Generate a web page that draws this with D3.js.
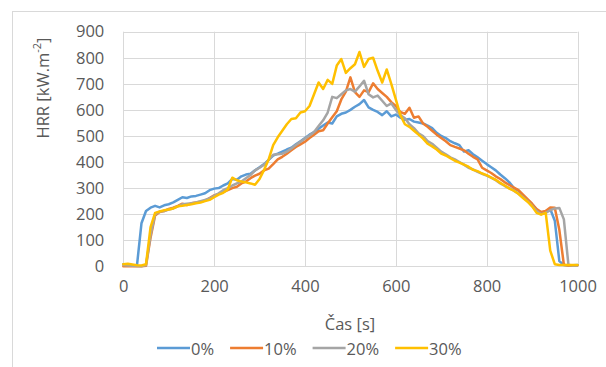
<!DOCTYPE html>
<html>
<head>
<meta charset="utf-8">
<script src="https://cdn.jsdelivr.net/npm/d3@7"></script>
<style>
  body { margin: 0; background: #fff; }
  text { font-family: "Open Sans", sans-serif; fill: #595959; }
</style>
</head>
<body>
<div id="chart"></div>
<script>
// time axis, one sample every 10 s
const time = d3.range(0, 1001, 10)

const seriesNames = ['0%', '10%', '20%', '30%']
const colors = ['#5B9BD5', '#ED7D31', '#A5A5A5', '#FFC000']

const hrr0 = [8, 6, 3, 2, 165, 212, 225, 232, 226, 234,
  238, 245, 255, 265, 262, 268, 270, 275, 280, 292,
  298, 300, 310, 318, 335, 332, 345, 352, 355, 368,
  380, 392, 408, 425, 432, 440, 448, 455, 468, 480,
  492, 505, 515, 528, 540, 552, 548, 575, 585, 590,
  600, 612, 622, 638, 610, 600, 592, 580, 595, 575,
  582, 570, 562, 565, 555, 552, 548, 540, 530, 512,
  500, 492, 480, 472, 465, 440, 445, 430, 418, 405,
  392, 380, 368, 352, 338, 322, 300, 290, 272, 255,
  238, 218, 205, 212, 220, 175, 20, 5, 3, 4, 5]

const hrr10 = [0, 0, 0, 0, 0, 2, 110, 195, 208, 212,
  220, 225, 232, 240, 235, 242, 245, 248, 252, 262,
  272, 278, 285, 292, 300, 305, 318, 325, 338, 348,
  355, 368, 375, 392, 410, 420, 432, 445, 458, 468,
  478, 492, 505, 518, 522, 548, 572, 595, 640, 670,
  725, 668, 650, 675, 668, 702, 680, 665, 650, 630,
  615, 592, 585, 608, 570, 575, 548, 535, 520, 505,
  492, 480, 465, 458, 452, 445, 432, 420, 410, 378,
  368, 358, 345, 335, 322, 312, 302, 292, 275, 258,
  240, 220, 208, 212, 226, 225, 140, 6, 3, 2, 3]

const hrr20 = [5, 3, 2, 1, 0, 5, 120, 200, 210, 212,
  218, 222, 230, 238, 240, 242, 245, 250, 255, 260,
  270, 280, 292, 300, 310, 318, 325, 338, 350, 368,
  378, 390, 408, 428, 430, 432, 440, 452, 465, 478,
  490, 502, 515, 538, 560, 590, 650, 645, 660, 675,
  680, 670, 690, 712, 660, 648, 655, 635, 615, 625,
  600, 580, 568, 545, 530, 510, 500, 480, 470, 455,
  440, 430, 418, 410, 400, 390, 378, 372, 362, 355,
  348, 340, 330, 318, 308, 300, 290, 278, 265, 250,
  232, 212, 200, 205, 215, 222, 224, 180, 6, 2, 3]

const hrr30 = [8, 10, 7, 4, 3, 8, 150, 205, 210, 215,
  218, 222, 230, 232, 235, 238, 242, 245, 250, 255,
  265, 275, 282, 295, 340, 330, 325, 322, 318, 313,
  335, 370, 410, 465, 495, 520, 545, 565, 568, 590,
  595, 615, 660, 705, 680, 715, 700, 770, 795, 742,
  760, 775, 822, 765, 795, 800, 750, 705, 755, 700,
  640, 580, 545, 535, 520, 505, 490, 470, 460, 448,
  432, 425, 415, 405, 398, 390, 382, 370, 365, 356,
  350, 340, 332, 320, 310, 298, 290, 278, 262, 248,
  230, 205, 198, 205, 60, 8, 5, 5, 5, 5, 5]

const xTicks = [0, 200, 400, 600, 800, 1000]
const yTicks = [0, 100, 200, 300, 400, 500, 600, 700, 800, 900]

const width = 606
const height = 367
const plot = { left: 123.3, right: 577.5, top: 31.7, bottom: 266.3 }
const fontSize = 16.5

const svg = d3.select('#chart')
  .append('svg')
  .attr('width', width)
  .attr('height', height)

// chart area frame
svg.append('rect')
  .attr('x', 12.5)
  .attr('y', 11.5)
  .attr('width', 700)
  .attr('height', 500)
  .attr('fill', '#fff')
  .attr('stroke', '#d9d9d9')

const xScale = d3.scaleLinear().domain([0, 1000]).range([plot.left, plot.right])
const yScale = d3.scaleLinear().domain([0, 900]).range([plot.bottom, plot.top])

// grid lines
svg.append('g')
  .selectAll('line')
  .data(yTicks)
  .enter()
  .append('line')
  .attr('x1', plot.left)
  .attr('x2', plot.right)
  .attr('y1', d => Math.round(yScale(d)) + 0.5)
  .attr('y2', d => Math.round(yScale(d)) + 0.5)
  .attr('stroke', '#d9d9d9')
svg.append('g')
  .selectAll('line')
  .data(xTicks)
  .enter()
  .append('line')
  .attr('x1', d => Math.round(xScale(d)) + 0.5)
  .attr('x2', d => Math.round(xScale(d)) + 0.5)
  .attr('y1', plot.top)
  .attr('y2', plot.bottom)
  .attr('stroke', '#d9d9d9')

// axes (labels only, Excel style)
const xAxis = d3.axisBottom(xScale).tickValues(xTicks).tickFormat(d3.format('d')).tickSize(0).tickPadding(14)
const yAxis = d3.axisLeft(yScale).tickValues(yTicks).tickFormat(d3.format('d')).tickSize(0).tickPadding(19)
const gx = svg.append('g')
  .attr('transform', 'translate(0,' + plot.bottom + ')')
  .call(xAxis)
const gy = svg.append('g')
  .attr('transform', 'translate(' + plot.left + ',0)')
  .call(yAxis)
gx.select('.domain').remove()
gy.select('.domain').remove()
svg.selectAll('.tick text')
  .attr('font-family', '"Open Sans", sans-serif')
  .attr('font-size', fontSize)
  .attr('fill', '#595959')

// series paths
const line = d3.line()
  .x(d => xScale(d[0]))
  .y(d => yScale(d[1]))
const allSeries = [hrr0, hrr10, hrr20, hrr30]
allSeries.forEach((values, i) => {
  svg.append('path')
    .attr('d', line(values.map((v, j) => [time[j], v])))
    .attr('fill', 'none')
    .attr('stroke', colors[i])
    .attr('stroke-width', 2.5)
    .attr('stroke-linejoin', 'round')
    .attr('stroke-linecap', 'round')
})

// axis titles
svg.append('text')
  .attr('x', 350)
  .attr('y', 323)
  .attr('text-anchor', 'middle')
  .attr('dominant-baseline', 'central')
  .attr('font-size', fontSize)
  .text('Čas [s]')
const yTitle = svg.append('text')
  .attr('transform', 'translate(42,88) rotate(-90)')
  .attr('text-anchor', 'middle')
  .attr('dominant-baseline', 'central')
  .attr('font-size', fontSize)
yTitle.append('tspan').text('HRR [kW.m')
yTitle.append('tspan').attr('dy', -6).attr('font-size', 11).text('-2')
yTitle.append('tspan').attr('dy', 6).text(']')

// legend
const legend = svg.append('g').attr('transform', 'translate(157,348)')
let lx = 0
seriesNames.forEach((name, i) => {
  legend.append('line')
    .attr('x1', lx)
    .attr('x2', lx + 33)
    .attr('stroke', colors[i])
    .attr('stroke-width', 2.5)
  const t = legend.append('text')
    .attr('x', lx + 34)
    .attr('dominant-baseline', 'central')
    .attr('font-size', fontSize)
    .text(name)
  lx += 34 + t.node().getComputedTextLength() + 16
})
</script>
</body>
</html>
